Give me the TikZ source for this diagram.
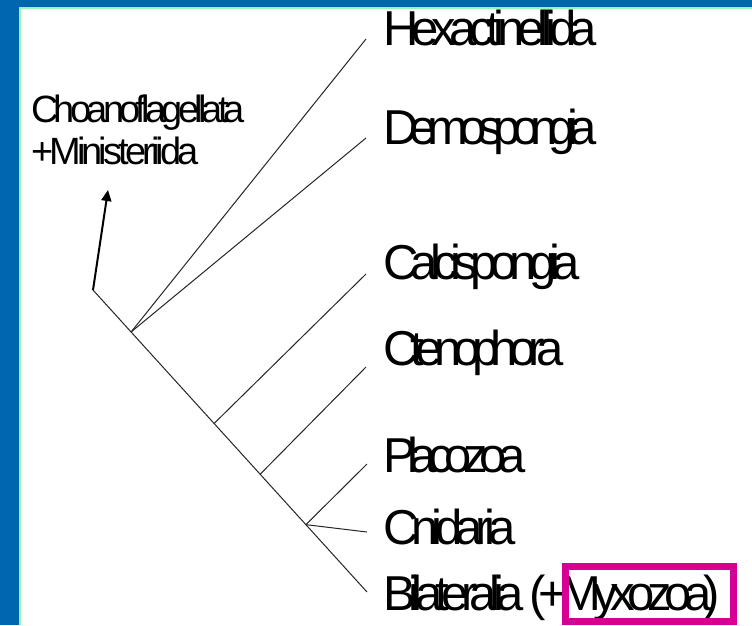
\documentclass[tikz,border=0pt]{standalone}
\usepackage{fontspec}
\setmainfont{Liberation Sans}
\usetikzlibrary{arrows.meta,calc}
\definecolor{barblue}{RGB}{0,102,175}
\definecolor{edgegreen}{RGB}{150,250,170}
\definecolor{boxpink}{RGB}{214,0,148}
\newcommand{\biglab}[1]{\fontsize{49}{55}\selectfont\addfontfeatures{LetterSpace=#1}}
\newcommand{\outlab}{\fontsize{38}{42}\selectfont}
\newcommand{\tracked}[2]{{\addfontfeatures{LetterSpace=#1}#2}}
\begin{document}
\begin{tikzpicture}[x=1pt,y=-1pt,
  taxon/.style={anchor=base west, inner sep=0pt, font=\biglab{#1}},
  taxon/.default=-16,
  branch/.style={line width=1pt, draw=black!85},
  outarrow/.style={line width=2pt, -{Triangle[length=11pt,width=10pt]}},
  highlight/.style={draw=boxpink, line width=7pt, inner sep=0pt}]
\useasboundingbox (0,0) rectangle (752,625);
\fill[white] (0,0) rectangle (752,625);
\fill[barblue] (0,0) rectangle (752,7);
\fill[barblue] (0,0) rectangle (19,625);
\draw[edgegreen, line width=2pt] (20,625) -- (20,8) -- (752,8);
% tree
\coordinate (root) at (93,290);
\coordinate (bila) at (367,592);
\coordinate (n1) at ($(root)!0.139!(bila)$);
\coordinate (n2) at ($(root)!0.442!(bila)$);
\coordinate (n3) at ($(root)!0.61!(bila)$);
\coordinate (n4) at ($(root)!0.777!(bila)$);
\coordinate (hexa) at (366,39);
\coordinate (demo) at (366,138);
\coordinate (calc) at (366,274);
\coordinate (cten) at (366,367);
\coordinate (plac) at (367,464);
\coordinate (cnid) at (367,532);
\coordinate (choTip) at (108,190);
\draw[branch] (root) -- (bila);
\draw[branch] (n1) -- (hexa);
\draw[branch] (n1) -- (demo);
\draw[branch] (n2) -- (calc);
\draw[branch] (n3) -- (cten);
\draw[branch] (n4) -- (plac);
\draw[branch] (n4) -- (cnid);
\draw[outarrow] (root) -- (choTip);
% labels
\node[taxon=-14.4] (tHexa) at (383,45) {Hexactinellida};
\node[taxon=-18.2] (tDemo) at (383,144) {Demospongia};
\node[taxon=-15.6] (tCalc) at (383,279) {Calcispongia};
\node[taxon=-17.1] (tCten) at (383,365) {Ctenophora};
\node[taxon=-17.2] (tPlac) at (383,472) {Placozoa};
\node[taxon=-14.5] (tCnid) at (383,544) {Cnidaria};
\node[taxon=-15.2] (tBila) at (383,610) {Bilateralia (+Myxozoa)};
\node[anchor=base west, inner sep=0pt, font=\outlab, align=left] (tCho) at (31,164) {\tracked{-12.5}{Choanoflagellata}\\\tracked{-10.3}{+Ministeriida}};
\node[highlight, minimum width=168pt, minimum height=55pt] (hl) at (649.5,594) {};
\end{tikzpicture}
\end{document}
